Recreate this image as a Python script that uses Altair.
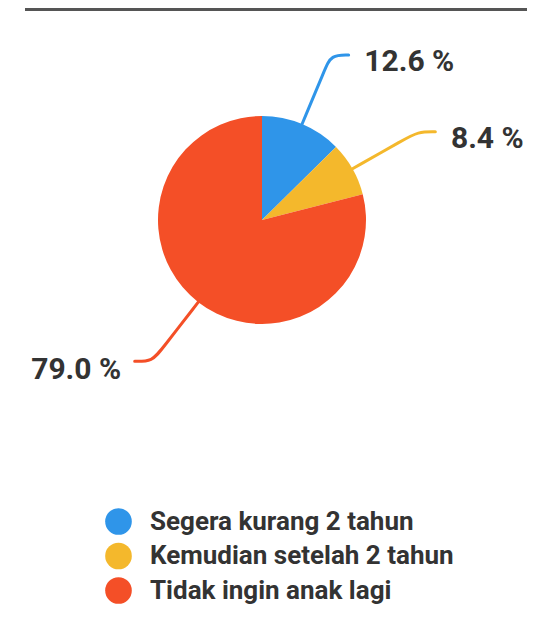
import math
import altair as alt
import pandas as pd

# ---- data ----
categories = ["Segera kurang 2 tahun", "Kemudian setelah 2 tahun", "Tidak ingin anak lagi"]
values = [12.6, 8.4, 79.0]
colors = ["#2F95E9", "#F4B82C", "#F44F27"]

# ---- layout (chart pixels, padding 0) ----
W, H = 519, 601
CX, CY, R = 254, 212, 104
ELBOW_START, ELBOW, TICK = 1.57, 1.72, 0.17
GAP_R, GAP_L = 0.15, 0.13
LABEL_SIZE = 30

pie_df = pd.DataFrame({"cat": categories, "val": values, "order": list(range(len(values)))})

line_rows, text_rows = [], []
cum = 0.0
for i, (c, v) in enumerate(zip(categories, values)):
    mid = (cum + v / 2) / 100 * 2 * math.pi
    cum += v
    dx, dy = math.sin(mid), math.cos(mid)
    side = 1 if dx >= 0 else -1
    pts = [(dx * 1.0, dy * 1.0), (dx * ELBOW_START, dy * ELBOW_START), (dx * ELBOW, dy * ELBOW)]
    ex, ey = dx * ELBOW + side * TICK, dy * ELBOW
    pts.append((ex, ey))
    for k, (px, py) in enumerate(pts):
        line_rows.append({"cat": c, "x": px, "y": py, "k": k})
    text_rows.append({"cat": c, "x": ex + (GAP_R if side > 0 else -GAP_L), "y": ey,
                      "side": "right" if side > 0 else "left", "label": f"{v:.1f} %"})

line_df = pd.DataFrame(line_rows)
text_df = pd.DataFrame(text_rows)

xs = alt.Scale(domain=[-CX / R, (W - CX) / R], nice=False, zero=False)
ys = alt.Scale(domain=[-(H - CY) / R, CY / R], nice=False, zero=False)

arc = alt.Chart(pie_df).mark_arc(outerRadius=R).encode(
    theta=alt.Theta("val:Q", stack=True),
    color=alt.Color("cat:N", sort=categories,
                    scale=alt.Scale(domain=categories, range=colors),
                    legend=alt.Legend(orient="none", legendX=97, legendY=500, title=None,
                                      symbolType="circle", symbolSize=710, symbolStrokeWidth=0,
                                      labelFont="Roboto", labelFontSize=26, labelFontWeight="bold",
                                      labelColor="#333333", labelOffset=18, rowPadding=7.5,
                                      padding=0, labelLimit=0)),
    order=alt.Order("order:Q"),
    x=alt.value(CX),
    y=alt.value(CY),
)

lines = alt.Chart(line_df).mark_line(strokeWidth=3, interpolate="basis", strokeCap="round").encode(
    x=alt.X("x:Q", scale=xs, axis=None),
    y=alt.Y("y:Q", scale=ys, axis=None),
    stroke=alt.Stroke("cat:N", scale=alt.Scale(domain=categories, range=colors), legend=None),
    order=alt.Order("k:Q"),
)

text_r = alt.Chart(text_df).transform_filter(alt.datum.side == "right").mark_text(
    align="left", baseline="middle", dy=7, font="Roboto", fontSize=LABEL_SIZE, fontWeight="bold",
    color="#333333").encode(
    x=alt.X("x:Q", scale=xs, axis=None), y=alt.Y("y:Q", scale=ys, axis=None), text="label:N")

text_l = alt.Chart(text_df).transform_filter(alt.datum.side == "left").mark_text(
    align="right", baseline="middle", dy=9, font="Roboto", fontSize=LABEL_SIZE, fontWeight="bold",
    color="#333333").encode(
    x=alt.X("x:Q", scale=xs, axis=None), y=alt.Y("y:Q", scale=ys, axis=None), text="label:N")

top_rule = alt.Chart(pie_df).mark_rule(color="#555555", strokeWidth=3).encode(
    x=alt.value(17), x2=alt.value(W), y=alt.value(1.5))

chart = alt.layer(top_rule, arc, lines, text_r, text_l).properties(
    width=W, height=H, padding=0, background="white",
    autosize=alt.AutoSizeParams(type="none"),
).configure_view(stroke=None)

chart.save("out.html", embed_options={"renderer": "svg", "actions": False})
